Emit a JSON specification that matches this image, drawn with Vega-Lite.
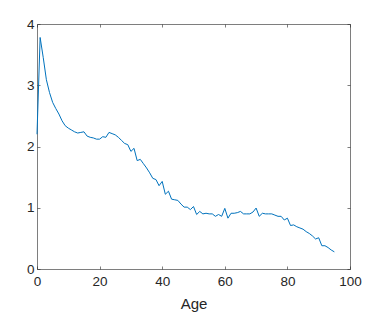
{
  "$schema": "https://vega.github.io/schema/vega-lite/v6.json",
  "width": 313,
  "height": 245,
  "autosize": {"type": "none"},
  "padding": {"left": 37, "top": 24, "right": 24, "bottom": 47},
  "background": "white",
  "config": {
    "view": {"stroke": null},
    "font": "Liberation Sans",
    "axis": {
      "grid": false,
      "labelFlush": false,
      "labelOverlap": false,
      "domainColor": "#262626",
      "domainWidth": 0.6,
      "tickColor": "#262626",
      "tickWidth": 0.6,
      "tickSize": -3,
      "labelColor": "#262626",
      "labelFont": "Liberation Sans",
      "labelFontSize": 13.5,
      "titleColor": "#262626",
      "titleFont": "Liberation Sans",
      "titleFontSize": 15,
      "titleFontWeight": "normal"
    }
  },
  "data": {
    "values": [
      {"age": 0, "v": 2.2}, {"age": 1, "v": 3.78}, {"age": 2, "v": 3.45}, {"age": 3, "v": 3.09},
      {"age": 4, "v": 2.88}, {"age": 5, "v": 2.72}, {"age": 6, "v": 2.62}, {"age": 7, "v": 2.53},
      {"age": 8, "v": 2.42}, {"age": 9, "v": 2.34}, {"age": 10, "v": 2.3}, {"age": 11, "v": 2.27},
      {"age": 12, "v": 2.24}, {"age": 13, "v": 2.22}, {"age": 14, "v": 2.23}, {"age": 15, "v": 2.24},
      {"age": 16, "v": 2.17}, {"age": 17, "v": 2.15}, {"age": 18, "v": 2.14}, {"age": 19, "v": 2.12},
      {"age": 20, "v": 2.12}, {"age": 21, "v": 2.16}, {"age": 22, "v": 2.15}, {"age": 23, "v": 2.23},
      {"age": 24, "v": 2.21}, {"age": 25, "v": 2.19}, {"age": 26, "v": 2.15}, {"age": 27, "v": 2.1},
      {"age": 28, "v": 2.05}, {"age": 29, "v": 2.03}, {"age": 30, "v": 1.92}, {"age": 31, "v": 1.97},
      {"age": 32, "v": 1.77}, {"age": 33, "v": 1.79}, {"age": 34, "v": 1.72}, {"age": 35, "v": 1.65},
      {"age": 36, "v": 1.57}, {"age": 37, "v": 1.48}, {"age": 38, "v": 1.46}, {"age": 39, "v": 1.36},
      {"age": 40, "v": 1.43}, {"age": 41, "v": 1.22}, {"age": 42, "v": 1.27}, {"age": 43, "v": 1.14},
      {"age": 44, "v": 1.13}, {"age": 45, "v": 1.12}, {"age": 46, "v": 1.06}, {"age": 47, "v": 1.01},
      {"age": 48, "v": 1.01}, {"age": 49, "v": 0.97}, {"age": 50, "v": 1.02}, {"age": 51, "v": 0.89},
      {"age": 52, "v": 0.94}, {"age": 53, "v": 0.9}, {"age": 54, "v": 0.91}, {"age": 55, "v": 0.9},
      {"age": 56, "v": 0.9}, {"age": 57, "v": 0.86}, {"age": 58, "v": 0.89}, {"age": 59, "v": 0.86},
      {"age": 60, "v": 0.99}, {"age": 61, "v": 0.83}, {"age": 62, "v": 0.91}, {"age": 63, "v": 0.91},
      {"age": 64, "v": 0.92}, {"age": 65, "v": 0.94}, {"age": 66, "v": 0.9}, {"age": 67, "v": 0.9},
      {"age": 68, "v": 0.9}, {"age": 69, "v": 0.93}, {"age": 70, "v": 0.995}, {"age": 71, "v": 0.86},
      {"age": 72, "v": 0.91}, {"age": 73, "v": 0.9}, {"age": 74, "v": 0.9}, {"age": 75, "v": 0.9},
      {"age": 76, "v": 0.88}, {"age": 77, "v": 0.86}, {"age": 78, "v": 0.86}, {"age": 79, "v": 0.8},
      {"age": 80, "v": 0.83}, {"age": 81, "v": 0.71}, {"age": 82, "v": 0.72}, {"age": 83, "v": 0.69},
      {"age": 84, "v": 0.67}, {"age": 85, "v": 0.65}, {"age": 86, "v": 0.61}, {"age": 87, "v": 0.58},
      {"age": 88, "v": 0.54}, {"age": 89, "v": 0.49}, {"age": 90, "v": 0.51}, {"age": 91, "v": 0.38},
      {"age": 92, "v": 0.38}, {"age": 93, "v": 0.35}, {"age": 94, "v": 0.31}, {"age": 95, "v": 0.28}
    ]
  },
  "layer": [
    {
      "mark": {"type": "line", "color": "#0072BD", "strokeWidth": 1},
      "encoding": {
        "x": {"field": "age", "type": "quantitative", "scale": {"domain": [0, 100], "nice": false},
              "axis": {"title": "Age", "values": [0, 20, 40, 60, 80, 100], "labelPadding": 8, "titlePadding": 9}},
        "y": {"field": "v", "type": "quantitative", "scale": {"domain": [0, 4], "nice": false},
              "axis": {"title": null, "values": [0, 1, 2, 3, 4], "labelPadding": 6}}
      }
    },
    {
      "mark": {"type": "line", "opacity": 0},
      "encoding": {
        "x": {"field": "age", "type": "quantitative",
              "axis": {"orient": "top", "title": null, "labels": false, "values": [0, 20, 40, 60, 80, 100]}},
        "y": {"field": "v", "type": "quantitative",
              "axis": {"orient": "right", "title": null, "labels": false, "values": [0, 1, 2, 3, 4]}}
      }
    }
  ],
  "resolve": {"axis": {"x": "independent", "y": "independent"}}
}
